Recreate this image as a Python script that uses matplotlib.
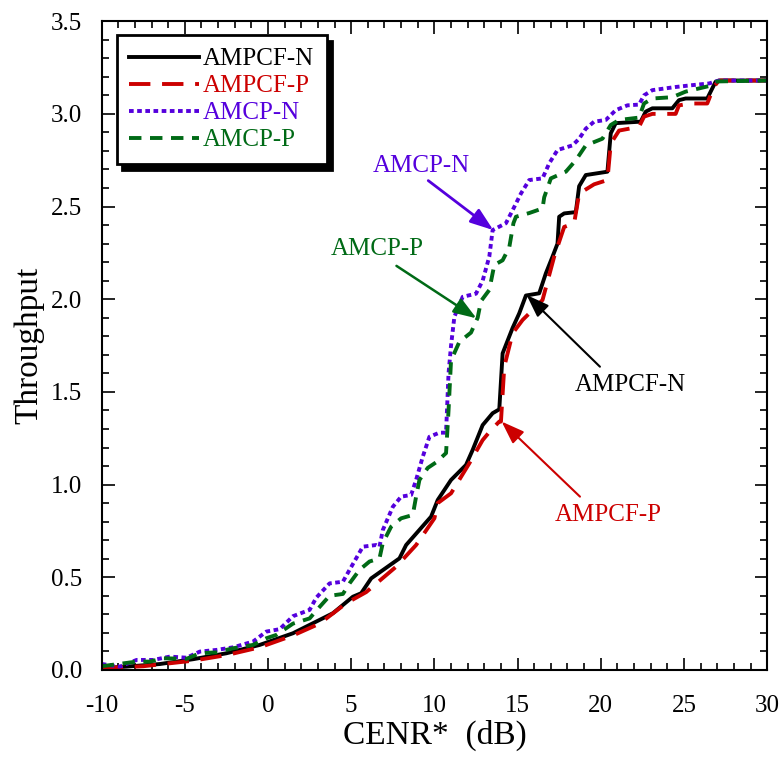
import numpy as np
import matplotlib
matplotlib.use("Agg")
import matplotlib.pyplot as plt
from matplotlib.ticker import MultipleLocator

plt.rcParams['font.family'] = 'serif'
plt.rcParams['font.serif'] = ['Liberation Serif', 'DejaVu Serif']
plt.rcParams['axes.unicode_minus'] = False

# ── Data ─────────────────────────────────────────────────────────────────────
ampcf_n_x = [-10, -8.5, -6.5, -4.5, -2.5, -0.5, 1.5, 1.9, 3.5, 3.9, 5.1, 5.6, 6.2, 7.9,
             8.3, 9.8, 10.2, 11.0, 11.9, 12.3, 12.9, 13.5, 13.9, 14.1, 14.7, 15.1, 15.5,
             16.3, 16.7, 17.1, 17.4, 17.5, 17.8, 18.5, 18.7, 19.1, 20.4, 20.6, 20.9, 22.4,
             22.7, 23.1, 24.3, 24.7, 25.1, 26.4, 26.9, 27.2, 30]
ampcf_n_y = [0.01, 0.018, 0.032, 0.058, 0.09, 0.135, 0.198, 0.216, 0.288, 0.306, 0.395,
             0.414, 0.494, 0.602, 0.674, 0.827, 0.917, 1.025, 1.106, 1.187, 1.321, 1.385,
             1.406, 1.708, 1.845, 1.924, 2.02, 2.032, 2.14, 2.23, 2.30, 2.445, 2.463, 2.47,
             2.61, 2.67, 2.688, 2.895, 2.95, 2.958, 3.012, 3.03, 3.03, 3.074, 3.083, 3.083,
             3.173, 3.18, 3.18]

ampcf_p_x = [-10, -7.5, -4.5, -2.5, -0.5, 1.5, 3.1, 4.7, 5.9, 7.7, 8.9, 10.0, 10.2, 11.0,
             12.1, 12.9, 13.4, 13.9, 14.0, 14.2, 14.7, 15.3, 16.0, 16.5, 17.2, 17.8, 18.4,
             18.7, 19.6, 20.4, 20.6, 21.1, 22.3, 22.6, 23.1, 24.5, 24.7, 25.4, 26.4, 26.8,
             27.1, 30]
ampcf_p_y = [0.01, 0.02, 0.05, 0.08, 0.122, 0.186, 0.25, 0.36, 0.42, 0.557, 0.674, 0.818,
             0.90, 0.953, 1.115, 1.24, 1.294, 1.34, 1.34, 1.636, 1.816, 1.888, 1.95, 1.996,
             2.23, 2.39, 2.41, 2.57, 2.62, 2.643, 2.84, 2.91, 2.93, 2.985, 3.0, 3.0, 3.046,
             3.056, 3.056, 3.146, 3.18, 3.18]

amcp_n_x = [-10, -8.9, -7.9, -6.9, -5.9, -4.9, -4.1, -3.1, -2.1, -0.9, -0.1, 0.7, 1.5, 2.5,
            2.9, 3.7, 4.5, 4.9, 5.7, 6.5, 6.7, 6.9, 7.5, 8.0, 8.6, 8.9, 9.3, 9.7, 10.3, 10.7,
            10.85, 11.0, 11.2, 11.7, 12.5, 12.9, 13.3, 13.5, 14.3, 14.7, 15.2, 15.7, 16.5,
            16.9, 17.4, 18.3, 18.7, 19.1, 19.6, 20.3, 20.9, 21.6, 22.3, 22.6, 23.1, 24.5,
            25.5, 26.5, 27.1, 30]
amcp_n_y = [0.032, 0.018, 0.054, 0.054, 0.072, 0.066, 0.099, 0.108, 0.122, 0.153, 0.207,
            0.22, 0.29, 0.324, 0.39, 0.467, 0.476, 0.54, 0.665, 0.674, 0.665, 0.755, 0.88,
            0.935, 0.944, 1.025, 1.15, 1.258, 1.28, 1.28, 1.6, 1.75, 1.905, 2.013, 2.03,
            2.10, 2.23, 2.373, 2.41, 2.48, 2.57, 2.643, 2.652, 2.733, 2.805, 2.83, 2.866,
            2.92, 2.958, 2.967, 3.02, 3.046, 3.05, 3.10, 3.128, 3.145, 3.155, 3.164, 3.18,
            3.18]

amcp_p_x = [-10, -7.9, -7.1, -6.3, -4.9, -4.1, -3.1, -2.1, -0.9, -0.1, 0.5, 1.5, 2.5, 2.9,
            3.7, 4.5, 4.9, 5.5, 6.1, 6.7, 6.9, 7.4, 8.0, 8.7, 8.9, 9.1, 9.6, 10.1, 10.7,
            10.85, 11.0, 11.5, 12.2, 12.6, 12.8, 13.3, 13.6, 14.1, 14.5, 14.75, 14.9, 15.7,
            16.5, 16.6, 17.0, 17.9, 18.5, 19.1, 20.1, 20.6, 21.1, 22.3, 22.6, 23.1, 24.3,
            25.1, 26.5, 27.0, 30]
amcp_p_y = [0.02, 0.045, 0.045, 0.063, 0.06, 0.09, 0.095, 0.117, 0.135, 0.171, 0.189, 0.25,
            0.278, 0.32, 0.40, 0.41, 0.467, 0.54, 0.585, 0.602, 0.685, 0.773, 0.818, 0.836,
            0.935, 1.025, 1.09, 1.12, 1.17, 1.40, 1.67, 1.77, 1.82, 1.90, 1.99, 2.05, 2.185,
            2.21, 2.28, 2.41, 2.445, 2.465, 2.49, 2.55, 2.652, 2.688, 2.75, 2.83, 2.866,
            2.94, 2.967, 2.98, 3.056, 3.083, 3.09, 3.12, 3.15, 3.175, 3.18]

# ── Styles ────────────────────────────────────────────────────────────────────
C_BLACK = "black"
C_RED   = "#cc0000"
C_BLUE  = "#5500dd"
C_GREEN = "#006a16"
LW = 2.8

fig = plt.figure(figsize=(7.82, 7.57), dpi=100)
ax = fig.add_axes([0.130, 0.115, 0.851, 0.857])

ax.plot(ampcf_n_x, ampcf_n_y, color=C_BLACK, lw=LW, label="AMPCF-N")
ax.plot(ampcf_p_x, ampcf_p_y, color=C_RED, lw=LW, dashes=(5.5, 3.0), label="AMPCF-P")
ax.plot(amcp_n_x, amcp_n_y, color=C_BLUE, lw=LW, dashes=(1.2, 0.9), label="AMCP-N")
ax.plot(amcp_p_x, amcp_p_y, color=C_GREEN, lw=LW, dashes=(3.2, 2.2), label="AMCP-P")

ax.set_xlim(-10, 30)
ax.set_ylim(0, 3.5)
ax.xaxis.set_major_locator(MultipleLocator(5))
ax.xaxis.set_minor_locator(MultipleLocator(1))
ax.yaxis.set_major_locator(MultipleLocator(0.5))
ax.yaxis.set_minor_locator(MultipleLocator(0.1))
ax.yaxis.set_major_formatter(plt.FormatStrFormatter("%.1f"))
ax.tick_params(which="both", direction="in", top=True, right=True, width=1.2)
ax.tick_params(which="major", length=9, labelsize=18)
ax.tick_params(axis="x", which="major", pad=18)
ax.tick_params(axis="y", which="major", pad=14)
ax.tick_params(which="minor", length=5)
for s in ax.spines.values():
    s.set_linewidth(1.5)

ax.set_xlabel("CENR*  (dB)", fontsize=24, labelpad=2)
ax.set_ylabel("Throughput", fontsize=24, labelpad=5)

leg = ax.legend(loc="upper left", bbox_to_anchor=(0.0226, 0.978), borderaxespad=0,
                fontsize=18, frameon=True, fancybox=False, handlelength=2.8,
                handletextpad=0.15, labelspacing=0.18, borderpad=0.5,
                shadow={"ox": 4, "oy": -4, "color": "black", "alpha": 1})
leg.get_frame().set_edgecolor("black")
leg.get_frame().set_linewidth(2.0)
for txt, c in zip(leg.get_texts(), [C_BLACK, C_RED, C_BLUE, C_GREEN]):
    txt.set_color(c)

# ── Annotations ───────────────────────────────────────────────────────────────
def note(text, xy, xytext_arrow, xytext, color, lw):
    ax.annotate("", xy=xy, xytext=xytext_arrow,
                arrowprops=dict(arrowstyle="-|>,head_length=0.7,head_width=0.25",
                                color=color, lw=lw, shrinkA=0, shrinkB=0,
                                mutation_scale=20))
    ax.text(xytext[0], xytext[1], text, color=color, fontsize=18,
            ha="center", va="center")

note("AMCP-N", (13.54, 2.373), (9.63, 2.64), (9.2, 2.72), C_BLUE, 2.0)
note("AMCP-P", (12.53, 1.897), (7.72, 2.18), (6.55, 2.27), C_GREEN, 1.8)
note("AMPCF-N", (15.54, 2.023), (19.95, 1.636), (21.76, 1.537), C_BLACK, 1.5)
note("AMPCF-P", (14.04, 1.34), (18.75, 0.935), (20.44, 0.836), C_RED, 1.5)

plt.savefig("out.png", dpi=100)
